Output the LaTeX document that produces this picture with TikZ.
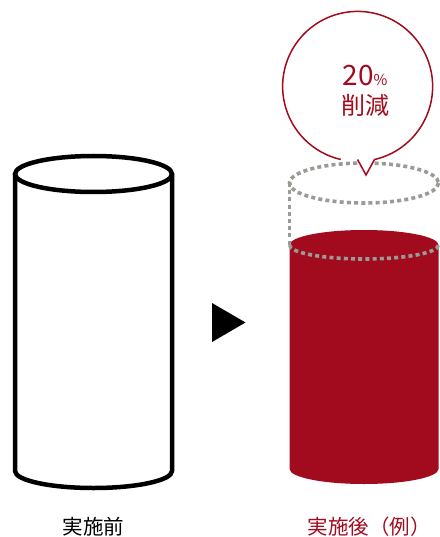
\documentclass[tikz,border=0pt]{standalone}
\usepackage{fontspec}
\newfontfamily\cjk{Noto Sans CJK JP}
\definecolor{dred}{HTML}{A20B1D}
\definecolor{dotgray}{HTML}{9B9B95}
\begin{document}
\begin{tikzpicture}[x=1pt,y=-1pt,
  outline/.style={line width=4.5pt,draw=black},
  dots/.style={draw=dotgray,line width=3.6pt,dash pattern=on 4pt off 3.2pt},
  lbl/.style={font=\cjk\fontsize{20.5}{24}\selectfont,inner sep=0pt}]
\useasboundingbox (0,0) rectangle (439,537);
% left cylinder
\coordinate (ltop) at (93.5,174);
\coordinate (lbot) at (93.5,471);
\draw[outline,line join=round] (15,174) -- (15,471) arc[start angle=180,end angle=0,x radius=78.5,y radius=17] -- (172,174);
\draw[outline,fill=white] (ltop) ellipse[x radius=78.5,y radius=18];
% arrow triangle
\fill (212,303) -- (245.5,322.5) -- (212,342) -- cycle;
% right cylinder
\fill[dred] (289.5,245) -- (289.5,469) arc[start angle=180,end angle=0,x radius=74.5,y radius=15] -- (438.5,245) arc[start angle=0,end angle=-180,x radius=74.5,y radius=15] -- cycle;
\draw[dots] (289.5,245) arc[start angle=180,end angle=0,x radius=74.5,y radius=14];
\draw[dots] (289.5,183) -- (289.5,245);
\draw[dots] (364,183) ellipse[x radius=74.5,y radius=20];
% bubble
\draw[dred,line width=1.5pt,fill=white] (357.5,159.5) -- (366,175) -- (374.5,159.5) arc[start angle=77,end angle=-257,radius=75] ;
\node[text=dred,inner sep=0pt] (pct) at (365,76) {\cjk\fontsize{28}{30}\selectfont 20\fontsize{15}{18}\selectfont\%};
\node[text=dred,inner sep=0pt] (red) at (365,105) {\cjk\fontsize{24}{26}\selectfont 削減};
% labels
\node[lbl] (before) at (93.5,527) {実施前};
\node[lbl,text=dred] (after) at (369,527) {実施後（例）};
\end{tikzpicture}
\end{document}
